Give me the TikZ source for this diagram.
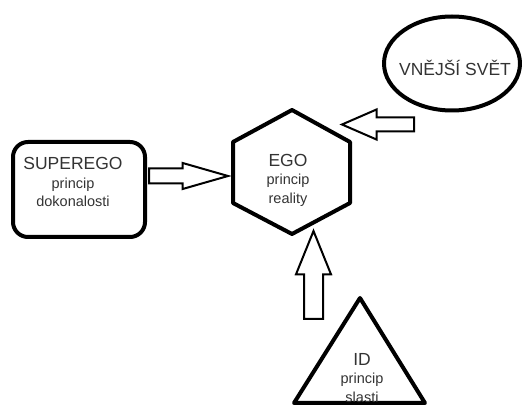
\documentclass[tikz,border=0pt]{standalone}
\usepackage{fontspec}
\setmainfont{Liberation Sans}
\usetikzlibrary{shapes.arrows}
\newcommand{\bigword}[1]{{\fontsize{17.5}{18}\selectfont #1}}

\begin{document}
\begin{tikzpicture}[x=1pt, y=-1pt,
  shapeline/.style={line width=4pt, line join=round},
  txt/.style={align=center, inner sep=0pt, text=black!80, font=\fontsize{14.5}{18.5}\selectfont},
  blockarrow/.style={draw, line width=2pt, single arrow, single arrow head indent=0pt,
    inner xsep=0pt, anchor=tail, minimum height=#1}]
\useasboundingbox (0,0) rectangle (523,406);
\node [draw, shapeline, rounded corners=15pt, minimum width=132pt, minimum height=95pt] (superego) at (79, 189.5) {};
\node [txt] (superegotext) at (73, 182) {\bigword{SUPEREGO}\\princip\\dokonalosti};
\draw [shapeline] (292, 110) -- (350, 142) -- (350, 203) -- (292, 234) -- (233, 203) -- (233, 142) -- cycle;
\node [txt] (ego) at (288, 180) {\bigword{EGO}\\princip\\reality};
\draw [shapeline] (452, 63.5) ellipse [x radius=68pt, y radius=47pt];
\node [txt] (svet) at (455, 68) {\bigword{VNĚJŠÍ SVĚT}};
\draw [shapeline] (360, 298) -- (425, 403) -- (294, 403) -- cycle;
\node [txt] (id) at (362, 378) {\bigword{ID}\\princip\\slasti};
\node [blockarrow=79pt, inner ysep=6.5pt, single arrow head extend=5.5pt, single arrow tip angle=32] (toego) at (148, 176) {};
\node [blockarrow=72pt, inner ysep=6pt, single arrow head extend=8pt, single arrow tip angle=47, rotate=180] (fromsvet) at (415, 124.5) {};
\node [blockarrow=88pt, inner ysep=8.5pt, single arrow head extend=8pt, single arrow tip angle=44, rotate=90] (fromid) at (313.5, 320) {};
\end{tikzpicture}
\end{document}
